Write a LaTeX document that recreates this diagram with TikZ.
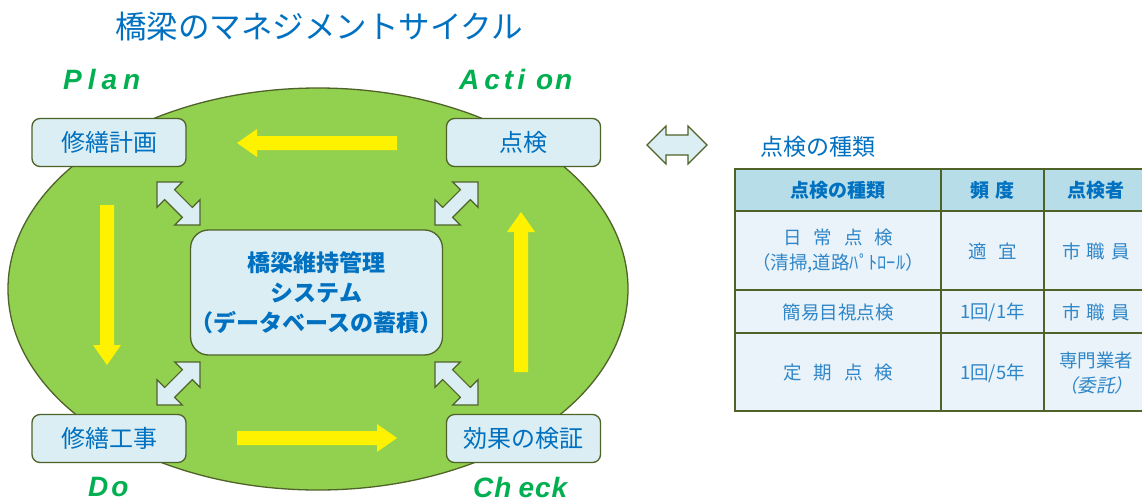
\documentclass[tikz,border=0pt]{standalone}
\usepackage{fontspec}
\newfontfamily\jp{Noto Sans CJK JP}
\newfontfamily\jpit[FakeSlant=0.2]{Noto Sans CJK JP}
\newfontfamily\pdcafont{Liberation Sans}
\definecolor{ellgreen}{HTML}{92D050}
\definecolor{olivedk}{HTML}{4F6228}
\definecolor{boxblue}{HTML}{DAEEF3}
\definecolor{txtblue}{HTML}{0070C0}
\definecolor{pdcagreen}{HTML}{00B050}
\definecolor{hdrfill}{HTML}{B7DDE8}
\definecolor{cellfill}{HTML}{EAF3FA}
\definecolor{celltext}{HTML}{2F86C8}
\definecolor{arrowfill}{HTML}{DAEEF3}
\tikzset{
  cbox/.style={draw=olivedk, fill=boxblue, line width=1.3pt, rounded corners=8pt,
    minimum width=154pt, minimum height=48pt, inner sep=0pt, text=txtblue,
    font=\jp\fontsize{24}{24}\selectfont},
  yarrow/.style={fill=yellow},
  darrow/.style={fill=arrowfill, draw=olivedk, line width=1.2pt, line join=miter},
  pdca/.style={text=pdcagreen, anchor=base west, inner sep=0pt,
    font=\pdcafont\bfseries\itshape\fontsize{28}{28}\selectfont},
  hdr/.style={text=txtblue, inner sep=0pt, font=\jp\bfseries\fontsize{19}{19}\selectfont},
  cell/.style={text=celltext, inner sep=0pt, align=center, font=\jp\fontsize{18.5}{25}\selectfont},
  grid/.style={draw=olivedk, line width=2.6pt}
}
\newcommand{\gap}[1]{\hspace{#1pt}}
\begin{document}
\begin{tikzpicture}[x=1pt,y=-1pt]
\useasboundingbox (0,0) rectangle (1142,501);
\fill[white] (0,0) rectangle (1142,501);

% title
\node[text=txtblue, inner sep=0pt, font=\jp\fontsize{31.5}{31.5}\selectfont] (title) at (319,27) {橋梁のマネジメントサイクル};

% ellipse
\draw[fill=ellgreen, draw=olivedk, line width=1.3pt] (318,289) ellipse [x radius=310, y radius=201];
\coordinate (cyc) at (318,289);

% PDCA labels
\node[pdca] (plan) at (63,89) {P\gap{6}l\gap{6}a\gap{6}n};
\node[pdca] (action) at (459,89) {A\gap{5}c\gap{4}t\gap{4}i\gap{11}o\gap{2}n};
\node[pdca] (do) at (88,496) {D\gap{3}o};
\node[pdca] (check) at (473,497) {C\gap{1}h\gap{7}e\gap{1}c\gap{1}k};

% yellow arrows
\fill[yarrow] (397,136) -- (257,136) -- (257,129) -- (237,143) -- (257,157) -- (257,150) -- (397,150) -- cycle;
\fill[yarrow] (237,431) -- (377,431) -- (377,424) -- (397,438) -- (377,452) -- (377,445) -- (237,445) -- cycle;
\fill[yarrow] (100,205) -- (100,345) -- (93,345) -- (107,365) -- (121,345) -- (114,345) -- (114,205) -- cycle;
\fill[yarrow] (514,372) -- (514,232) -- (507,232) -- (521,212) -- (535,232) -- (528,232) -- (528,372) -- cycle;

% diagonal double arrows
\foreach \cx/\cy/\ang in {178.5/203.5/-45, 456.5/203.5/45, 178.5/383.5/45, 456.5/383.5/-45}{
  \draw[darrow, shift={(\cx,\cy)}, rotate=\ang]
    (-30.5,0) -- (-12.5,18) -- (-12.5,7) -- (12.5,7) -- (12.5,18) -- (30.5,0)
    -- (12.5,-18) -- (12.5,-7) -- (-12.5,-7) -- (-12.5,-18) -- cycle;
}

% corner boxes
\node[cbox] (plan box) at (109,142.5) {修繕計画};
\node[cbox] (act box) at (523.5,142.5) {点検};
\node[cbox] (do box) at (109,438.5) {修繕工事};
\node[cbox] (chk box) at (523.5,438.5) {効果の検証};

% center box
\node[cbox, minimum width=243pt, minimum height=125pt, rounded corners=18pt, align=center,
  font=\jp\bfseries\fontsize{23}{30}\selectfont] (sys) at (316.5,292.5)
  {橋梁維持管理\\システム\\（データベースの蓄積）};

% horizontal double arrow
\draw[darrow] (647,145) -- (666,126) -- (666,135) -- (688,135) -- (688,126) -- (707,145)
  -- (688,164) -- (688,155) -- (666,155) -- (666,164) -- cycle;

% table title
\node[text=txtblue, inner sep=0pt, font=\jp\fontsize{23}{23}\selectfont] (ttitle) at (818,147) {点検の種類};

% table
\begin{scope}
\clip (0,0) rectangle (1142,501);
\fill[hdrfill] (735,169) rectangle (1160,211);
\fill[cellfill] (735,211) rectangle (1160,411);
\foreach \yy in {169,211,290,333,411}{\draw[grid] (733.7,\yy) -- (1160,\yy);}
\foreach \xx in {735,941,1044}{\draw[grid] (\xx,169) -- (\xx,411);}
\end{scope}

\node[hdr] (h1) at (838,190) {点検の種類};
\node[hdr] (h2) at (992.5,190) {頻\gap{6}度};
\node[hdr] (h3) at (1096,190) {点検者};

\node[cell] (r1a) at (838,251) {日\gap{12}常\gap{12}点\gap{12}検\\（清掃,道路ﾊﾟﾄﾛｰﾙ）};
\node[cell] (r1b) at (992.5,251) {適\gap{12}宜};
\node[cell] (r1c) at (1096,251) {市\gap{6}職\gap{6}員};

\node[cell] (r2a) at (838,312) {簡易目視点検};
\node[cell] (r2b) at (992.5,312) {1回/1年};
\node[cell] (r2c) at (1096,312) {市\gap{6}職\gap{6}員};

\node[cell] (r3a) at (838,373) {定\gap{12}期\gap{12}点\gap{12}検};
\node[cell] (r3b) at (992.5,373) {1回/5年};
\node[cell] (r3c) at (1096,373) {専門業者\\{\jpit（委託）}};
\end{tikzpicture}
\end{document}
